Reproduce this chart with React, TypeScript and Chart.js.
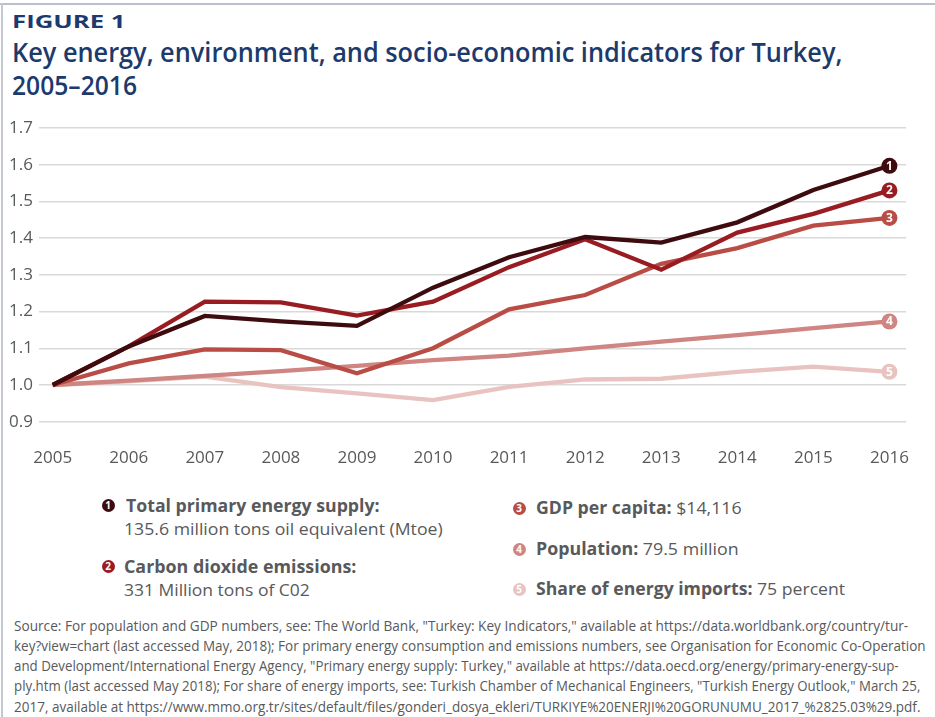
import React, { useEffect, useLayoutEffect, useRef } from "react";
import { Chart, registerables } from "chart.js";

Chart.register(...registerables);

// ---- data ----
const years = [2005, 2006, 2007, 2008, 2009, 2010, 2011, 2012, 2013, 2014, 2015, 2016];
const energySupply = [1.0, 1.105, 1.188, 1.173, 1.161, 1.265, 1.348, 1.403, 1.388, 1.443, 1.531, 1.597];
const co2Emissions = [1.0, 1.105, 1.227, 1.225, 1.189, 1.227, 1.321, 1.397, 1.314, 1.415, 1.466, 1.53];
const gdpPerCapita = [1.0, 1.059, 1.097, 1.095, 1.032, 1.1, 1.206, 1.245, 1.33, 1.373, 1.434, 1.455];
const population = [1.0, 1.012, 1.025, 1.038, 1.052, 1.068, 1.08, 1.1, 1.118, 1.136, 1.155, 1.173];
const energyImportsShare = [1.0, 1.01, 1.023, 0.994, 0.977, 0.959, 0.995, 1.015, 1.017, 1.036, 1.05, 1.036];
const seriesNames = [
  "Total primary energy supply",
  "Carbon dioxide emissions",
  "GDP per capita",
  "Population",
  "Share of energy imports",
];
const seriesValues = [energySupply, co2Emissions, gdpPerCapita, population, energyImportsShare];
const seriesColors = ["#3e0b0f", "#981c21", "#b94c45", "#cf8581", "#e8c3c0"];

const NAVY = "#1c3a6b";
const GREY = "#58595b";
const FONT = '"Open Sans", "Noto Sans", sans-serif';

const footnoteLines = [
  'Source: For population and GDP numbers, see: The World Bank, "Turkey: Key Indicators," available at https://data.worldbank.org/country/tur-',
  "key?view=chart (last accessed May, 2018); For primary energy consumption and emissions numbers, see Organisation for Economic Co-Operation",
  'and Development/International Energy Agency, "Primary energy supply: Turkey," available at https://data.oecd.org/energy/primary-energy-sup-',
  'ply.htm (last accessed May 2018); For share of energy imports, see: Turkish Chamber of Mechanical Engineers, "Turkish Energy Outlook," March 25,',
  "2017, available at https://www.mmo.org.tr/sites/default/files/gonderi_dosya_ekleri/TURKIYE%20ENERJI%20GORUNUMU_2017_%2825.03%29.pdf.",
];
const footnoteWidths = [894, 912, 885, 906, 906];

// ---- helpers ----
function Fit({ w, style, children }: { w: number; style?: any; children: any }) {
  const ref = useRef<HTMLSpanElement>(null);
  useLayoutEffect(() => {
    const el = ref.current;
    if (!el) return;
    const apply = () => {
      el.style.transform = "none";
      const nat = el.offsetWidth;
      if (nat > 0) el.style.transform = `scaleX(${w / nat})`;
    };
    apply();
    if ((document as any).fonts && (document as any).fonts.ready) {
      (document as any).fonts.ready.then(apply);
    }
  }, [w]);
  return (
    <span
      ref={ref}
      style={{
        display: "inline-block",
        whiteSpace: "nowrap",
        transformOrigin: "0 0",
        ...style,
      }}
    >
      {children}
    </span>
  );
}

function Badge({ n, color, cx, cy }: { n: number; color: string; cx: number; cy: number }) {
  const d = 13;
  return (
    <div
      style={{
        position: "absolute",
        left: cx - d / 2,
        top: cy - d / 2,
        width: d,
        height: d,
        borderRadius: "50%",
        background: color,
        color: "#fff",
        fontFamily: FONT,
        fontWeight: 700,
        fontSize: 10,
        lineHeight: d + "px",
        textAlign: "center",
      }}
    >
      {n}
    </div>
  );
}

function TextLine({ x, baseline, size, w, children, style }: any) {
  return (
    <div
      style={{
        position: "absolute",
        left: x,
        top: baseline - 0.888 * size,
        fontSize: size,
        lineHeight: size + "px",
        fontFamily: FONT,
        whiteSpace: "nowrap",
        ...style,
      }}
    >
      <Fit w={w}>{children}</Fit>
    </div>
  );
}

const endMarkers = {
  id: "endMarkers",
  afterDatasetsDraw(chart: any) {
    const ctx = chart.ctx;
    for (let i = chart.data.datasets.length - 1; i >= 0; i--) {
      const meta = chart.getDatasetMeta(i);
      const pt = meta.data[meta.data.length - 1];
      if (!pt) continue;
      ctx.save();
      ctx.beginPath();
      ctx.arc(pt.x, pt.y, 8, 0, Math.PI * 2);
      ctx.fillStyle = chart.data.datasets[i].borderColor;
      ctx.fill();
      ctx.fillStyle = "#ffffff";
      ctx.font = `700 12px ${FONT}`;
      ctx.textAlign = "center";
      ctx.textBaseline = "middle";
      ctx.fillText(String(i + 1), pt.x, pt.y + 0.5);
      ctx.restore();
    }
  },
};

function LineChart() {
  const ref = useRef<HTMLCanvasElement>(null);
  useEffect(() => {
    if (!ref.current) return;
    const chart = new Chart(ref.current, {
      type: "line",
      data: {
        datasets: seriesValues.map((vals, i) => ({
          label: seriesNames[i],
          data: years.map((yr, j) => ({ x: yr, y: vals[j] })),
          borderColor: seriesColors[i],
          backgroundColor: seriesColors[i],
          borderWidth: 4.3,
          pointRadius: 0,
          tension: 0,
          fill: false,
        })),
      },
      options: {
        responsive: false,
        animation: false,
        devicePixelRatio: 1,
        layout: { padding: { left: 8, right: 7, top: 18, bottom: 0 } },
        plugins: {
          legend: { display: false },
          tooltip: { enabled: false },
        },
        scales: {
          x: {
            type: "linear",
            min: 2004.82,
            max: 2016.22,
            grid: { display: false, drawTicks: false },
            border: { display: false },
            ticks: {
              stepSize: 1,
              includeBounds: false,
              autoSkip: false,
              maxRotation: 0,
              padding: 26,
              color: GREY,
              font: { family: FONT, size: 17 },
              callback: (v: any) => String(v),
            },
            afterFit: (s: any) => {
              s.height = 58.3;
            },
          },
          y: {
            min: 0.9,
            max: 1.7,
            grid: { color: "#d9d9d9", lineWidth: 1.5, drawTicks: false },
            border: { display: false },
            ticks: {
              stepSize: 0.1,
              padding: 6,
              color: GREY,
              font: { family: FONT, size: 17 },
              callback: (v: any) => Number(v).toFixed(1),
            },
            afterFit: (s: any) => {
              s.width = 31;
            },
          },
        },
      } as any,
      plugins: [endMarkers],
    });
    return () => chart.destroy();
  }, []);
  return (
    <canvas
      ref={ref}
      width={935}
      height={370}
      style={{ position: "absolute", left: 0, top: 110, width: 935, height: 370, display: "block" }}
    />
  );
}

export default function App() {
  return (
    <div
      style={{
        position: "absolute",
        left: 0,
        top: 0,
        width: 935,
        height: 717,
        overflow: "hidden",
        background: "#ffffff",
        fontFamily: FONT,
      }}
    >
      {/* frame lines */}
      <div style={{ position: "absolute", left: 0, top: 3, width: 935, height: 2, background: "#b9bfcb" }} />
      <div style={{ position: "absolute", left: 1, top: 3, width: 2, height: 714, background: "#c3c8d3" }} />

      {/* heading */}
      <TextLine x={12} baseline={28} size={18} w={113} style={{ color: NAVY, fontWeight: 700 }}>
        FIGURE 1
      </TextLine>
      <TextLine x={12} baseline={62} size={27} w={830} style={{ color: NAVY, fontWeight: 600 }}>
        Key energy, environment, and socio-economic indicators for Turkey,
      </TextLine>
      <TextLine x={12} baseline={95} size={27} w={125} style={{ color: NAVY, fontWeight: 600 }}>
        2005–2016
      </TextLine>

      <LineChart />

      {/* legend */}
      <Badge n={1} color={seriesColors[0]} cx={108} cy={505} />
      <TextLine x={126} baseline={512} size={17} w={254} style={{ color: GREY, fontWeight: 700 }}>
        Total primary energy supply:
      </TextLine>
      <TextLine x={124} baseline={535} size={17} w={319} style={{ color: GREY }}>
        135.6 million tons oil equivalent (Mtoe)
      </TextLine>

      <Badge n={2} color={seriesColors[1]} cx={108} cy={566} />
      <TextLine x={124} baseline={573} size={17} w={232} style={{ color: GREY, fontWeight: 700 }}>
        Carbon dioxide emissions:
      </TextLine>
      <TextLine x={124} baseline={596} size={17} w={186} style={{ color: GREY }}>
        331 Million tons of C02
      </TextLine>

      <Badge n={3} color={seriesColors[2]} cx={519} cy={508} />
      <TextLine x={536} baseline={514} size={17} w={206} style={{ color: GREY }}>
        <b>GDP per capita:</b> $14,116
      </TextLine>

      <Badge n={4} color={seriesColors[3]} cx={519} cy={549} />
      <TextLine x={536} baseline={555} size={17} w={203} style={{ color: GREY }}>
        <b>Population:</b> 79.5 million
      </TextLine>

      <Badge n={5} color={seriesColors[4]} cx={519} cy={589} />
      <TextLine x={536} baseline={595} size={17} w={309} style={{ color: GREY }}>
        <b>Share of energy imports:</b> 75 percent
      </TextLine>

      {/* footnote */}
      {footnoteLines.map((line, i) => (
        <TextLine
          key={i}
          x={14}
          baseline={631 + i * 20.3}
          size={14}
          w={footnoteWidths[i]}
          style={{ color: GREY, fontWeight: 400 }}
        >
          {line}
        </TextLine>
      ))}
    </div>
  );
}
